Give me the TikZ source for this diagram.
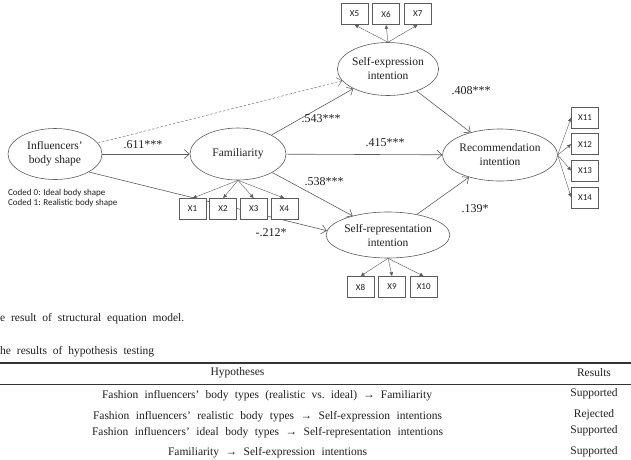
\documentclass[tikz,border=0pt]{standalone}
\usepackage{fontspec}
\setmainfont{Liberation Serif}
\setsansfont{Carlito}
\usepackage{xcolor}
\definecolor{semline}{HTML}{5c5c5c}
\definecolor{semtext}{HTML}{1e1e1e}
\definecolor{semrule}{HTML}{333333}
\usepackage{tikz}
\usetikzlibrary{shapes.geometric, arrows.meta, positioning}

\begin{document}
\begin{tikzpicture}[
  x=1pt, y=-1pt,
  node distance=3pt,
  latent/.style={ellipse, draw=semline, semithick, inner sep=0pt,
    minimum width=96pt, minimum height=52pt, align=center,
    font=\fontsize{11.5}{14}\selectfont, text=semtext},
  item/.style={rectangle, draw=semline, fill=white, semithick,
    minimum width=27pt, minimum height=21pt, inner sep=0pt,
    font=\sffamily\fontsize{9}{10}\selectfont, text=semtext},
  effect/.style={-{Straight Barb[length=5pt, width=9pt]}, semithick, color=semline},
  load/.style={-{Latex[length=4pt, width=4pt]}, thin, color=semline},
  coef/.style={font=\fontsize{12}{14}\selectfont, text=semtext, inner sep=0pt},
  row/.style={font=\fontsize{11.5}{13}\selectfont, text=semtext, inner sep=0pt}
]
\useasboundingbox (0,0) rectangle (631,459);

\node[latent, minimum width=94pt, minimum height=51pt] (infl) at (55,154)
  {Influencers'\\body shape};
\node[latent] (fam) at (238,154) {Familiarity};
\node[latent, minimum width=97pt, minimum height=53pt] (selfexp) at (388,69)
  {Self-expression\\intention};
\node[latent, minimum width=95pt] (rec) at (500,155)
  {Recommendation\\intention};
\node[latent, minimum width=97pt, minimum height=46pt] (selfrep) at (388,235)
  {Self-representation\\intention};

% runs behind the X1--X4 boxes
\draw[effect] (infl.-28) -- (selfrep.176);

\node[item] (x1) at (192.5,209) {X1};
\node[item, right=of x1] (x2) {X2};
\node[item, right=of x2] (x3) {X3};
\node[item, right=of x3] (x4) {X4};

\node[item] (x5) at (354.5,14) {X5};
\node[item, right=4pt of x5] (x6) {X6};
\node[item, right=4pt of x6] (x7) {X7};

\node[item] (x8) at (360.5,287) {X8};
\node[item, right=4pt of x8] (x9) {X9};
\node[item, right=4pt of x9] (x10) {X10};

\node[item] (x11) at (585,117.5) {X11};
\node[item, below=5pt of x11] (x12) {X12};
\node[item, below=5pt of x12] (x13) {X13};
\node[item, below=5pt of x13] (x14) {X14};

\draw[load] (fam.south) -- (x1.north);
\draw[load] (fam.south) -- (x2.north);
\draw[load] (fam.south) -- (x3.north);
\draw[load] (fam.south) -- (x4.north);
\draw[load] (selfexp.north) -- (x5.south);
\draw[load] (selfexp.north) -- (x6.south);
\draw[load] (selfexp.north) -- (x7.south);
\draw[load] (selfrep.south) -- (x8.north);
\draw[load] (selfrep.south) -- (x9.north);
\draw[load] (selfrep.south) -- (x10.north);
\draw[load] (rec.east) -- (x11.west);
\draw[load] (rec.east) -- (x12.west);
\draw[load] (rec.east) -- (x13.west);
\draw[load] (rec.east) -- (x14.west);

\draw[effect] (infl) -- (fam);
\draw[effect, thin, dash pattern=on 2.5pt off 1.8pt] (infl) -- (selfexp);
\draw[effect] (fam) -- (selfexp);
\draw[effect] (fam) -- (rec);
\draw[effect] (fam) -- (selfrep);
\draw[effect] (selfexp) -- (rec);
\draw[effect] (selfrep) -- (rec);

\node[coef] (b611) at (143,145) {.611***};
\node[coef] (b543) at (321,119) {.543***};
\node[coef] (b415) at (385,143) {.415***};
\node[coef] (b538) at (324,182) {.538***};
\node[coef] (b408) at (471,91) {.408***};
\node[coef] (b139) at (475,209) {.139*};
\node[coef] (b212) at (271,233) {-.212*};

\node[anchor=west, align=left, inner sep=0pt, text=semtext,
  font=\sffamily\fontsize{9}{10.5}\selectfont] (coding) at (8,198)
  {Coded 0: Ideal body shape\\Coded 1: Realistic body shape};

% caption and table
\node[row, anchor=west] (figcap) at (0,319)
  {\makebox[184pt][s]{e result of structural equation model.}};
\node[row, anchor=west] (tabcap) at (0,352)
  {\makebox[154pt][s]{he results of hypothesis testing}};

\coordinate (topl) at (0,363);
\coordinate (topr) at (631,363);
\coordinate (midl) at (0,384);
\coordinate (midr) at (631,384);
\draw[line width=1.8pt, semrule] (topl) -- (topr);
\draw[line width=0.7pt, semrule] (midl) -- (midr);

\node[row] (hyphead) at (237.5,373) {Hypotheses};
\node[row] (reshead) at (594,373) {Results};

\node[row] (hyp1) at (267,396)
  {\makebox[330pt][s]{Fashion influencers' body types (realistic vs.\ ideal) → Familiarity}};
\node[row] (res1) at (594,394) {Supported};
\node[row] (hyp2) at (267.5,417)
  {\makebox[349pt][s]{Fashion influencers' realistic body types → Self-expression intentions}};
\node[row] (res2) at (594,415) {Rejected};
\node[row] (hyp3) at (267.5,433)
  {\makebox[351pt][s]{Fashion influencers' ideal body types → Self-representation intentions}};
\node[row] (res3) at (594,431) {Supported};
\node[row] (hyp4) at (267.5,453)
  {\makebox[199pt][s]{Familiarity → Self-expression intentions}};
\node[row] (res4) at (594,452) {Supported};
\end{tikzpicture}
\end{document}
